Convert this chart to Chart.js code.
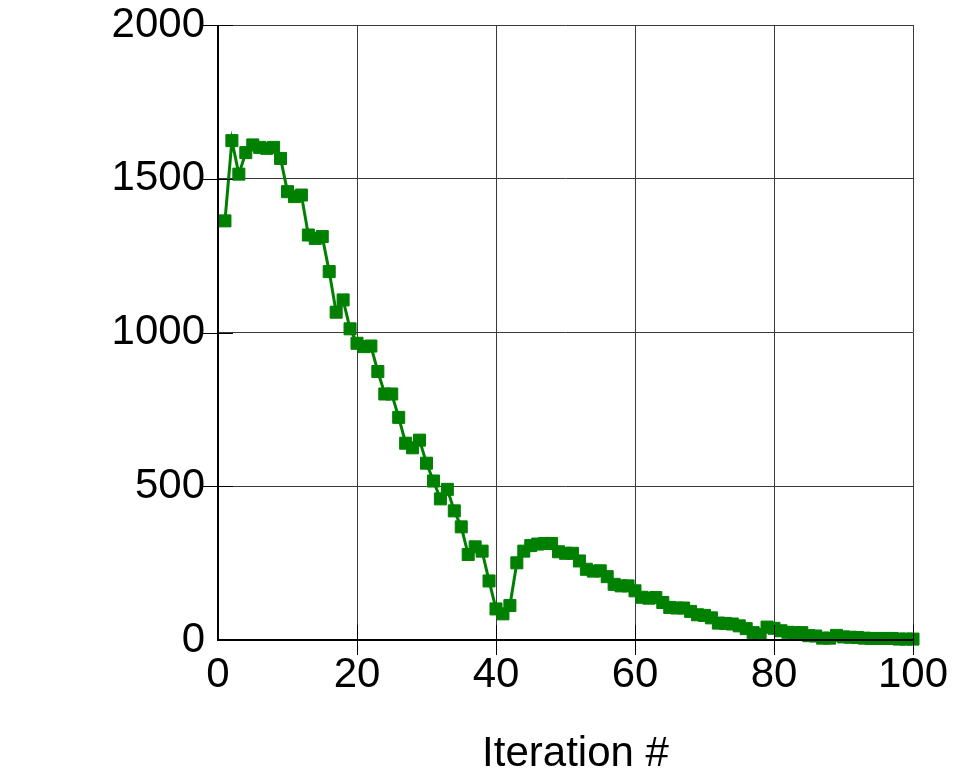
<!DOCTYPE html>
<html>
<head>
<meta charset="utf-8">
<title>Iteration history</title>
<script src="https://cdn.jsdelivr.net/npm/chart.js@4/dist/chart.umd.min.js"></script>
<style>
  html, body { margin: 0; padding: 0; background: #ffffff; }
  canvas { display: block; }
</style>
</head>
<body>
<canvas id="chart" width="954" height="776"></canvas>
<script>
// Iteration numbers and the value recorded at each one
const iterations = [
  1, 2, 3, 4, 5, 6, 7, 8, 9, 10,
  11, 12, 13, 14, 15, 16, 17, 18, 19, 20,
  21, 22, 23, 24, 25, 26, 27, 28, 29, 30,
  31, 32, 33, 34, 35, 36, 37, 38, 39, 40,
  41, 42, 43, 44, 45, 46, 47, 48, 49, 50,
  51, 52, 53, 54, 55, 56, 57, 58, 59, 60,
  61, 62, 63, 64, 65, 66, 67, 68, 69, 70,
  71, 72, 73, 74, 75, 76, 77, 78, 79, 80,
  81, 82, 83, 84, 85, 86, 87, 88, 89, 90,
  91, 92, 93, 94, 95, 96, 97, 98, 99, 100
];
const values = [
  1363, 1624, 1515, 1585, 1610, 1602, 1599, 1602, 1566, 1458,
  1442, 1447, 1317, 1306, 1312, 1198, 1066, 1106, 1012, 965,
  954, 956, 873, 800, 800, 724, 640, 625, 650, 575,
  517, 459, 490, 420, 368, 278, 303, 289, 192, 101,
  85, 112, 251, 289, 307, 312, 314, 314, 287, 282,
  282, 257, 230, 224, 225, 206, 181, 176, 176, 160,
  139, 136, 138, 122, 106, 104, 104, 93, 82, 80,
  72, 55, 54, 52, 46, 37, 24, 18, 42, 38,
  30, 25, 24, 24, 14, 13, 6, 6, 15, 10,
  9, 8, 6, 5, 5, 5, 5, 3, 3, 3
];
const xTickValues = [0, 20, 40, 60, 80, 100];
const yTickValues = [0, 500, 1000, 1500, 2000];
const xAxisTitle = 'Iteration #';

const FONT_FAMILY = "'Liberation Sans', Arial, Helvetica, sans-serif";
const FONT_SIZE = 42;
const LINE_GREEN = '#008000';

// Black axis lines plus tick marks that cross the axes, painted above the series
const crossingAxes = {
  id: 'crossingAxes',
  afterDatasetsDraw(chart) {
    const { ctx, chartArea, scales } = chart;
    const { left, right, top, bottom } = chartArea;
    const len = 15;
    ctx.save();
    ctx.strokeStyle = '#000000';
    ctx.lineWidth = 1;
    scales.y.ticks.forEach((t, i) => {
      if (i === 0) return;
      const py = Math.round(scales.y.getPixelForValue(t.value)) + 0.5;
      ctx.beginPath();
      ctx.moveTo(left - len, py);
      ctx.lineTo(left + len, py);
      ctx.stroke();
    });
    scales.x.ticks.forEach((t, i) => {
      if (i === 0) return;
      const px = Math.round(scales.x.getPixelForValue(t.value)) + 0.5;
      ctx.beginPath();
      ctx.moveTo(px, bottom - len);
      ctx.lineTo(px, bottom + len);
      ctx.stroke();
    });
    ctx.lineWidth = 2;
    ctx.beginPath();
    ctx.moveTo(Math.round(left), Math.round(top));
    ctx.lineTo(Math.round(left), Math.round(bottom));
    ctx.lineTo(Math.round(right), Math.round(bottom));
    ctx.stroke();
    ctx.restore();
  }
};

// Horizontal axis caption, set a little right of the plot centre
const axisCaption = {
  id: 'axisCaption',
  afterDraw(chart) {
    const { ctx, chartArea } = chart;
    ctx.save();
    ctx.fillStyle = '#000000';
    ctx.font = FONT_SIZE + 'px ' + FONT_FAMILY;
    ctx.textAlign = 'center';
    ctx.textBaseline = 'alphabetic';
    ctx.fillText(xAxisTitle, (chartArea.left + chartArea.right) / 2 + 10, 766);
    ctx.restore();
  }
};

const points = iterations.map((it, i) => ({ x: it, y: values[i] }));

new Chart(document.getElementById('chart'), {
  type: 'line',
  data: {
    datasets: [{
      data: points,
      borderColor: LINE_GREEN,
      borderWidth: 3,
      tension: 0,
      pointStyle: 'rect',
      pointRadius: 8.5,
      pointBorderWidth: 1,
      pointBackgroundColor: LINE_GREEN,
      pointBorderColor: LINE_GREEN,
      clip: false
    }]
  },
  options: {
    responsive: false,
    animation: false,
    events: [],
    layout: { padding: 0 },
    plugins: {
      legend: { display: false },
      tooltip: { enabled: false }
    },
    scales: {
      x: {
        type: 'linear',
        min: 0,
        max: 100,
        afterBuildTicks: (scale) => { scale.ticks = xTickValues.map(v => ({ value: v })); },
        afterFit: (scale) => {
          scale.height = 136;
          scale.paddingLeft = 0;
          scale.paddingRight = 41;
        },
        border: { display: false },
        grid: { color: '#3a3a3a', lineWidth: 1, drawTicks: false },
        ticks: {
          color: '#000000',
          padding: 10,
          maxRotation: 0,
          autoSkip: false,
          callback: (v) => String(v),
          font: { family: FONT_FAMILY, size: FONT_SIZE }
        }
      },
      y: {
        type: 'linear',
        min: 0,
        max: 2000,
        afterBuildTicks: (scale) => { scale.ticks = yTickValues.map(v => ({ value: v })); },
        afterFit: (scale) => {
          scale.width = 218;
          scale.paddingTop = 25;
          scale.paddingBottom = 0;
        },
        border: { display: false },
        grid: { color: '#3a3a3a', lineWidth: 1, drawTicks: false },
        ticks: {
          color: '#000000',
          padding: 13,
          autoSkip: false,
          callback: (v) => String(v),
          font: { family: FONT_FAMILY, size: FONT_SIZE }
        }
      }
    }
  },
  plugins: [crossingAxes, axisCaption]
});
</script>
</body>
</html>
